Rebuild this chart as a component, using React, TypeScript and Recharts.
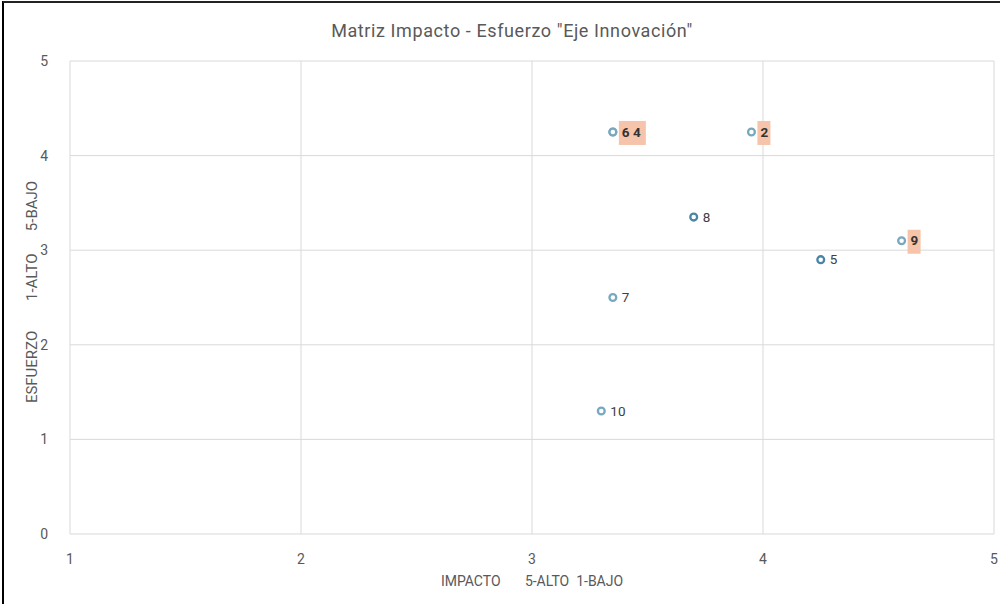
import React from 'react';
import { ScatterChart, Scatter, XAxis, YAxis, CartesianGrid } from 'recharts';

const pointIds = ['6', '4', '2', '8', '9', '5', '7', '10'];
const impacto = [3.35, 3.35, 3.95, 3.7, 4.6, 4.25, 3.35, 3.3];
const esfuerzo = [4.25, 4.25, 4.25, 3.35, 3.1, 2.9, 2.5, 1.3];
const highlighted = [true, true, true, false, true, false, false, false];
const darkMarker = [false, false, false, true, false, true, false, false];

const xTicks = [1, 2, 3, 4, 5];
const yTicks = [0, 1, 2, 3, 4, 5];

const title = 'Matriz Impacto - Esfuerzo "Eje Innovación"';
const xLabel = 'IMPACTO       5-ALTO  1-BAJO';
const yLabel = 'ESFUERZO        1-ALTO      5-BAJO';

const data = pointIds.map((id, i) => {
  // combine labels of points sharing the same coordinates
  const firstIdx = pointIds.findIndex((_, j) => impacto[j] === impacto[i] && esfuerzo[j] === esfuerzo[i]);
  const group = pointIds.filter((_, j) => impacto[j] === impacto[i] && esfuerzo[j] === esfuerzo[i]);
  return {
    id,
    x: impacto[i],
    y: esfuerzo[i],
    label: firstIdx === i ? group.join(' ') : '',
    hi: highlighted[i],
    dark: darkMarker[i],
  };
});

const FONT = 'Roboto, "Noto Sans", sans-serif';

const PointShape = (props: any) => {
  const { cx, cy, payload } = props;
  const hi = payload.hi;
  const label: string = payload.label;
  const w = label.length * 7 + 6;
  return (
    <g>
      <circle cx={cx} cy={cy} r={3.4} fill="#fff" stroke={payload.dark ? '#4a86a3' : '#78a8bf'} strokeWidth={2.3} />
      {label && hi && (
        <rect x={cx + 6} y={cy - 11} width={w} height={24} fill="#f5c4aa" />
      )}
      {label && (
        <text
          x={cx + 9}
          y={cy + 1}
          dominantBaseline="middle"
          fontFamily={FONT}
          fontSize={13.5}
          fontWeight={hi ? 700 : 400}
          fill={hi ? '#333333' : '#404040'}
          style={{ whiteSpace: 'pre' }}
        >
          {label}
        </text>
      )}
    </g>
  );
};

export default function App() {
  return (
    <div style={{ position: 'absolute', left: 0, top: 0, width: 1000, height: 604, background: '#fff' }}>
      <ScatterChart width={1000} height={604} margin={{ top: 61, right: 6, bottom: 40, left: 30 }}>
        <CartesianGrid stroke="#d9d9d9" strokeWidth={1} />
        <XAxis
          type="number"
          dataKey="x"
          domain={[1, 5]}
          ticks={xTicks}
          axisLine={false}
          tickLine={false}
          tickMargin={14}
          height={30}
          tick={{ fill: '#595959', fontSize: 14, fontFamily: FONT }}
          interval={0}
        />
        <YAxis
          type="number"
          dataKey="y"
          domain={[0, 5]}
          ticks={yTicks}
          axisLine={false}
          tickLine={false}
          tickMargin={16}
          width={40}
          tick={{ fill: '#595959', fontSize: 14, fontFamily: FONT }}
          interval={0}
        />
        <Scatter data={data} isAnimationActive={false} shape={PointShape} />
        <text x={512} y={32} textAnchor="middle" dominantBaseline="middle" fontFamily={FONT} fontSize={18} letterSpacing={0.6} fill="#595959">
          {title}
        </text>
        <text x={532} y={582} textAnchor="middle" dominantBaseline="middle" fontFamily={FONT} fontSize={14} fill="#595959" style={{ whiteSpace: 'pre' }}>
          {xLabel}
        </text>
        <text
          x={33}
          y={292}
          textAnchor="middle"
          dominantBaseline="middle"
          fontFamily={FONT}
          fontSize={15}
          fill="#595959"
          transform="rotate(-90 33 292)"
          style={{ whiteSpace: 'pre' }}
        >
          {yLabel}
        </text>
        <line x1={3} y1={1} x2={3} y2={604} stroke="#000" strokeWidth={2} />
        <line x1={3} y1={2} x2={1000} y2={2} stroke="#222" strokeWidth={2} />
      </ScatterChart>
    </div>
  );
}
